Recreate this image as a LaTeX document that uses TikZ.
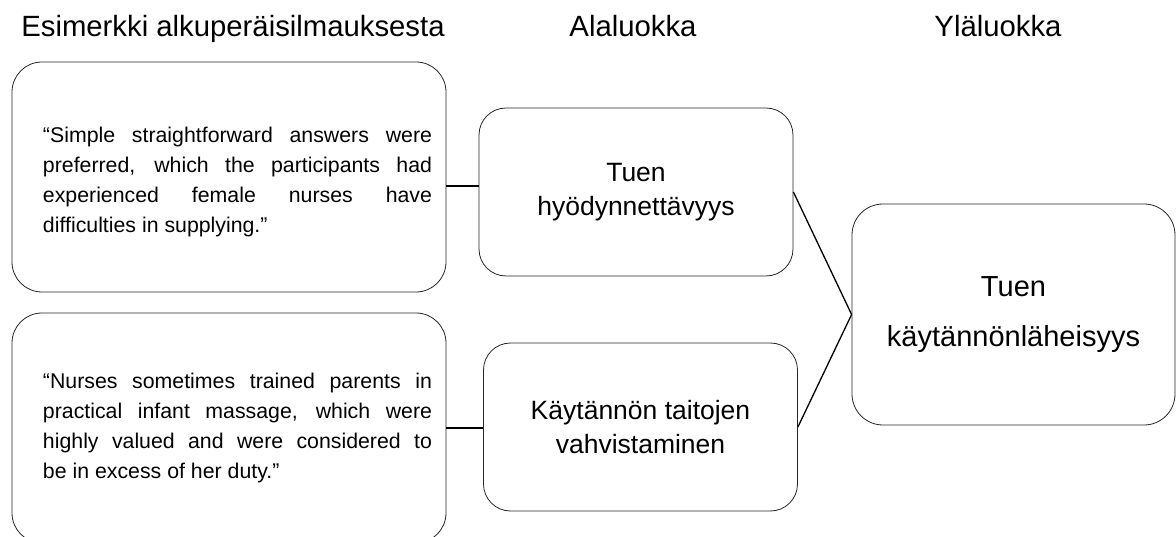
\documentclass[tikz,border=0pt]{standalone}
\usepackage{fontspec}
\setmainfont{Liberation Sans}
\usetikzlibrary{positioning, calc}

\tikzset{
  quotebox/.style={draw=black!85, line width=0.8pt, rounded corners=30pt, minimum width=434pt, minimum height=230pt, text width=406pt, align=justify, font=\fontsize{21.3}{30}\selectfont},
  subbox/.style={draw=black!85, line width=0.8pt, rounded corners=27pt, minimum width=314pt, minimum height=168pt, align=center, font=\fontsize{26.5}{34.5}\selectfont},
  mainbox/.style={draw=black!85, line width=0.8pt, rounded corners=31pt, minimum width=323pt, minimum height=221pt, align=center, font=\fontsize{29}{50}\selectfont},
  heading/.style={anchor=base, font=\fontsize{29.3}{34}\selectfont},
  link/.style={draw=black, line width=1.3pt}
}

\begin{document}
\begin{tikzpicture}[x=1pt, y=1pt]
        \useasboundingbox (0, 0) rectangle (1176, 536);

        % otsikot
        \node[heading] (h1) at (233, 499) {Esimerkki alkuperäisilmauksesta};
        \node[heading] (h2) at (633, 499) {Alaluokka};
        \node[heading] (h3) at (998, 499) {Yläluokka};

        \node[quotebox] (q1) at (229, 359) {\leftskip=17pt\rule{0pt}{26pt}“Simple straightforward answers were\linebreak preferred, which the participants had\linebreak experienced female nurses have\linebreak difficulties in supplying.”\par};
        \node[quotebox] (q2) at (229, 108) {\leftskip=17pt “Nurses sometimes trained parents in\linebreak practical infant massage, which were\linebreak highly valued and were considered to\linebreak be in excess of her duty.”\par};

        \node[subbox] (a1) at (636, 344) {Tuen\\hyödynnettävyys};
        \node[subbox] (a2) at (640.5, 109) {Käytännön taitojen\\vahvistaminen};

        \node[mainbox] (y1) at (1013.5, 221.5) {Tuen\\käytännönläheisyys};

        \draw[link] ([yshift=-9pt]q1.east) -- ([yshift=-9pt]q1.east -| a1.west);
        \draw[link] (q2.east) -- (q2.east -| a2.west);
        \draw[link] (a1.east) -- (y1.west);
        \draw[link] (a2.east) -- (y1.west);

      \end{tikzpicture}
\end{document}
